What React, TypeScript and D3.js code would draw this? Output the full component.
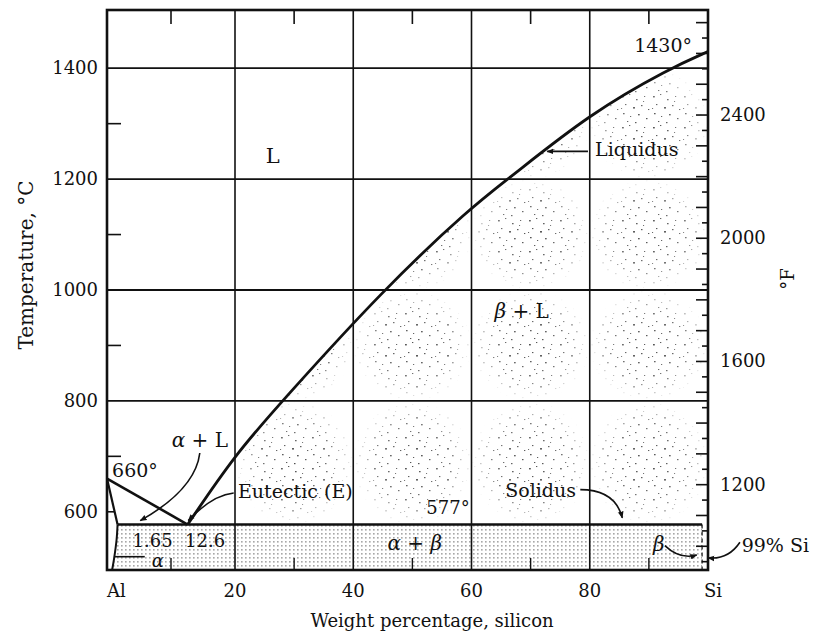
import * as d3 from "d3";

// axes: composition in wt% Si, temperature in °C
const SI_TICKS = [0, 20, 40, 60, 80, 100];
const SI_LABELS = ["Al", "20", "40", "60", "80", "Si"];
const SI_MINOR = [10, 30, 50, 70, 90];
const T_TICKS = [600, 800, 1000, 1200, 1400];
const T_GRID = [800, 1000, 1200, 1400];
const T_MINOR = [700, 900, 1100, 1300];
const F_LABELS = [1200, 1600, 2000, 2400];

// Si liquidus (L / beta+L boundary)
const LIQ_SI = [12.6, 20, 28, 45, 60, 66.2, 80, 93.6, 100];
const LIQ_T = [577, 703, 800, 1000, 1150, 1200, 1318, 1400, 1430];
// Al-rich side
const AL_LIQ_SI = [0, 12.6];
const AL_LIQ_T = [660, 577];
const AL_SOL_SI = [0, 1.65];
const AL_SOL_T = [660, 577];
const SOLVUS_SI = [1.65, 1.5, 1.1, 0.8];
const SOLVUS_T = [577, 550, 515, 495];
const EUT_T = 577;
const EUT_SI = [1.65, 99];
const BETA_SI = 99;

// labels: text, si, temp, anchor
const LABELS: { txt: string; si: number; t: number; a?: string; fs?: number }[] = [
  { txt: "L", si: 26.4, t: 1229, a: "middle", fs: 21 },
  { txt: "Liquidus", si: 80.9, t: 1241 },
  { txt: "1430°", si: 97.3, t: 1429, a: "end" },
  { txt: "660°", si: 0.8, t: 663 },
  { txt: "Eutectic (E)", si: 20.5, t: 625 },
  { txt: "577°", si: 59.7, t: 596, a: "end", fs: 18 },
  { txt: "Solidus", si: 65.7, t: 627 },
  { txt: "1.65", si: 4.0, t: 537, fs: 18 },
  { txt: "12.6", si: 12.2, t: 537, fs: 18 },
  { txt: "99% Si", si: 105.7, t: 528 },
];
const GREEK: { g: string; rest: string; si: number; t: number; a: string; fs: number }[] = [
  { g: "β", rest: " + L", si: 68.5, t: 950, a: "middle", fs: 20 },
  { g: "α", rest: " + L", si: 14.5, t: 717, a: "middle", fs: 20 },
  { g: "α", rest: " + β", si: 50.4, t: 531, a: "middle", fs: 20 },
  { g: "α", rest: "", si: 7.0, t: 500, a: "start", fs: 18 },
  { g: "β", rest: "", si: 90.7, t: 530, a: "start", fs: 20 },
];
// annotation arrows: start, control, end (si, temp)
const ARROWS: number[][][] = [
  [[79.7, 1250], [76, 1250], [72.8, 1250]],
  [[14.5, 706], [13.8, 640], [5.2, 584]],
  [[19.8, 634], [16.4, 630], [12.7, 584]],
  [[78.4, 640], [84.3, 640], [85.5, 589]],
  [[92.7, 539], [95.3, 513], [98.1, 522]],
  [[105.4, 545], [103.4, 513], [100, 517]],
];
const ALPHA_PTR_SI = [5.9, 1.25];
const ALPHA_PTR_T = 519;

// stipple texture (tile-local dots: x, y, size)
const STIP = [
  [2, 3, 1.8], [9, 1, 1.3], [16, 6, 1.6], [24, 3, 1.2], [5, 11, 1.4], [13, 14, 2], [21, 12, 1.5], [28, 16, 1.3],
  [3, 20, 1.6], [10, 23, 1.2], [18, 21, 1.7], [26, 25, 1.5], [7, 28, 1.3], [15, 29, 1.5], [23, 8, 1.1], [1, 15, 1.1],
];

export default function App() {
  const L = 107, R = 708, TOP = 10, B = 570;
  const x = d3.scaleLinear().domain([0, 20, 100]).range([L, 235, R]);
  const y = d3.scaleLinear().domain([495, 1505]).range([B, TOP]);
  const toF = (c: number) => (c * 9) / 5 + 32;
  const yF = d3.scaleLinear().domain([toF(495), toF(1505)]).range([B, TOP]);
  const pt = (s: number, t: number): [number, number] => [x(s), y(t)];
  const line = d3.line();
  const font = "'DejaVu Serif', serif";
  const ink = "#111";

  const liq = LIQ_SI.map((s, i) => pt(s, LIQ_T[i]));
  const liqPath = d3.line().curve(d3.curveBasis)(liq)!;
  const solvus = SOLVUS_SI.map((s, i) => pt(s, SOLVUS_T[i]));
  const solvusPath = d3.line().curve(d3.curveCatmullRom)(solvus)!;

  const betaL = liqPath + `L${x(100)},${y(EUT_T)}L${x(LIQ_SI[0])},${y(EUT_T)}Z`;
  const alphaBeta = solvusPath + `L${x(BETA_SI)},${y(495)}L${x(BETA_SI)},${y(EUT_T)}Z`;

  const xs = [20, 40, 60, 80, 100];
  const ts = [EUT_T, 800, 1000, 1200, 1400, 1505];
  const cells: [number, number, number, number][] = [];
  for (let i = 0; i < xs.length - 1; i++)
    for (let j = 0; j < ts.length - 1; j++) cells.push([x(xs[i]), y(ts[j + 1]), x(xs[i + 1]), y(ts[j])]);

  const arrowPath = (a: number[][]) => {
    const p = d3.path();
    const [s, c, e] = a.map(([si, t]) => pt(si, t));
    p.moveTo(s[0], s[1]);
    p.quadraticCurveTo(c[0], c[1], e[0], e[1]);
    return p.toString();
  };

  const fTicks = d3.range(950, 2701, 50);

  return (
    <svg width={815} height={639} style={{ position: "absolute", left: 0, top: 0, background: "#fff" }} fontFamily={font}>
      <defs>
        <pattern id="stip" width={31} height={31} patternUnits="userSpaceOnUse">
          {STIP.map(([a, b, s], i) => (
            <rect key={i} x={a} y={b} width={s} height={s * 0.8} fill="#222" />
          ))}
        </pattern>
        <pattern id="dots" width={4} height={4} patternUnits="userSpaceOnUse">
          <rect x={1.2} y={1.2} width={1.3} height={1.3} fill="#555" />
        </pattern>
        <radialGradient id="cellG">
          <stop offset="0" stopColor="#fff" stopOpacity={1} />
          <stop offset="0.65" stopColor="#fff" stopOpacity={0.75} />
          <stop offset="1" stopColor="#fff" stopOpacity={0} />
        </radialGradient>
        <mask id="cellMask">
          {cells.map(([x0, y0, x1, y1], i) => (
            <rect key={i} x={x0} y={y0} width={x1 - x0} height={y1 - y0} fill="url(#cellG)" />
          ))}
        </mask>
        <marker id="ah" viewBox="0 0 10 10" refX={9} refY={5} markerWidth={7} markerHeight={7} orient="auto-start-reverse" markerUnits="userSpaceOnUse">
          <path d="M0,1 L10,5 L0,9 Z" fill={ink} />
        </marker>
      </defs>

      {/* stippled phase fields */}
      <path d={betaL} fill="url(#stip)" mask="url(#cellMask)" opacity={0.8} />
      <path d={alphaBeta} fill="url(#dots)" opacity={0.8} />

      {/* grid */}
      {T_GRID.map((t) => (
        <line key={t} x1={L} x2={R} y1={y(t)} y2={y(t)} stroke={ink} strokeWidth={1.8} />
      ))}
      {SI_TICKS.slice(1, 5).map((s) => (
        <line key={s} x1={x(s)} x2={x(s)} y1={TOP} y2={B} stroke={ink} strokeWidth={1.6} />
      ))}

      {/* ticks */}
      {T_MINOR.map((t) => (
        <line key={t} x1={L} x2={L + 14} y1={y(t)} y2={y(t)} stroke={ink} strokeWidth={1.6} />
      ))}
      <line x1={L} x2={L + 7} y1={y(600)} y2={y(600)} stroke={ink} strokeWidth={1.6} />
      {SI_MINOR.map((s) => (
        <g key={s}>
          <line x1={x(s)} x2={x(s)} y1={TOP} y2={TOP + 14} stroke={ink} strokeWidth={1.6} />
          <line x1={x(s)} x2={x(s)} y1={B} y2={B - 12} stroke={ink} strokeWidth={1.4} />
        </g>
      ))}
      {fTicks.map((f) => (
        <line key={f} x1={R} x2={R - (f % 100 === 0 ? 12 : 6)} y1={yF(f)} y2={yF(f)} stroke={ink} strokeWidth={1.6} />
      ))}

      {/* phase boundaries */}
      <path d={liqPath} fill="none" stroke={ink} strokeWidth={2.8} />
      <path d={line(AL_LIQ_SI.map((s, i) => pt(s, AL_LIQ_T[i])))!} fill="none" stroke={ink} strokeWidth={2.6} />
      <path d={line(AL_SOL_SI.map((s, i) => pt(s, AL_SOL_T[i])))!} fill="none" stroke={ink} strokeWidth={2.2} />
      <path d={solvusPath} fill="none" stroke={ink} strokeWidth={2} />
      <line x1={x(EUT_SI[0])} x2={x(EUT_SI[1])} y1={y(EUT_T)} y2={y(EUT_T)} stroke={ink} strokeWidth={2.6} />
      <line x1={x(BETA_SI)} x2={x(BETA_SI)} y1={y(EUT_T)} y2={y(495)} stroke={ink} strokeWidth={1.2} strokeDasharray="4,3" />

      {/* frame */}
      <rect x={L} y={TOP} width={R - L} height={B - TOP} fill="none" stroke={ink} strokeWidth={2.6} />

      {/* annotations */}
      {ARROWS.map((a, i) => (
        <path key={i} d={arrowPath(a)} fill="none" stroke={ink} strokeWidth={1.6} markerEnd="url(#ah)" />
      ))}
      <line x1={x(ALPHA_PTR_SI[0])} x2={x(ALPHA_PTR_SI[1])} y1={y(ALPHA_PTR_T)} y2={y(ALPHA_PTR_T)} stroke={ink} strokeWidth={1.6} />

      {LABELS.map((d) => (
        <text key={d.txt} x={x(d.si)} y={y(d.t)} fontSize={d.fs ?? 19} textAnchor={d.a ?? "start"} fill={ink}>
          {d.txt}
        </text>
      ))}
      {GREEK.map((d, i) => (
        <text key={i} x={x(d.si)} y={y(d.t)} fontSize={d.fs} textAnchor={d.a} fill={ink}>
          <tspan fontStyle="italic">{d.g}</tspan>
          {d.rest.includes("β") ? (
            <>
              {" + "}
              <tspan fontStyle="italic">β</tspan>
            </>
          ) : (
            d.rest
          )}
        </text>
      ))}

      {/* axis labels */}
      {T_TICKS.map((t) => (
        <text key={t} x={L - 9} y={y(t) + 6} fontSize={18} textAnchor="end" fill={ink}>
          {t}
        </text>
      ))}
      {F_LABELS.map((f) => (
        <text key={f} x={R + 12} y={yF(f) + 6} fontSize={18} fill={ink}>
          {f}
        </text>
      ))}
      {SI_TICKS.map((s, i) => (
        <text key={s} x={i === 0 ? L : x(s) + (i === 5 ? 5 : 0)} y={597} fontSize={18} textAnchor={i === 0 ? "start" : "middle"} fill={ink}>
          {SI_LABELS[i]}
        </text>
      ))}
      <text x={432} y={627} fontSize={18} textAnchor="middle" fill={ink}>
        Weight percentage, silicon
      </text>
      <text transform="translate(33,265) rotate(-90)" fontSize={20} textAnchor="middle" fill={ink}>
        Temperature, °C
      </text>
      <text transform="translate(794,279) rotate(-90)" fontSize={18} textAnchor="middle" fill={ink}>
        °F
      </text>
    </svg>
  );
}
